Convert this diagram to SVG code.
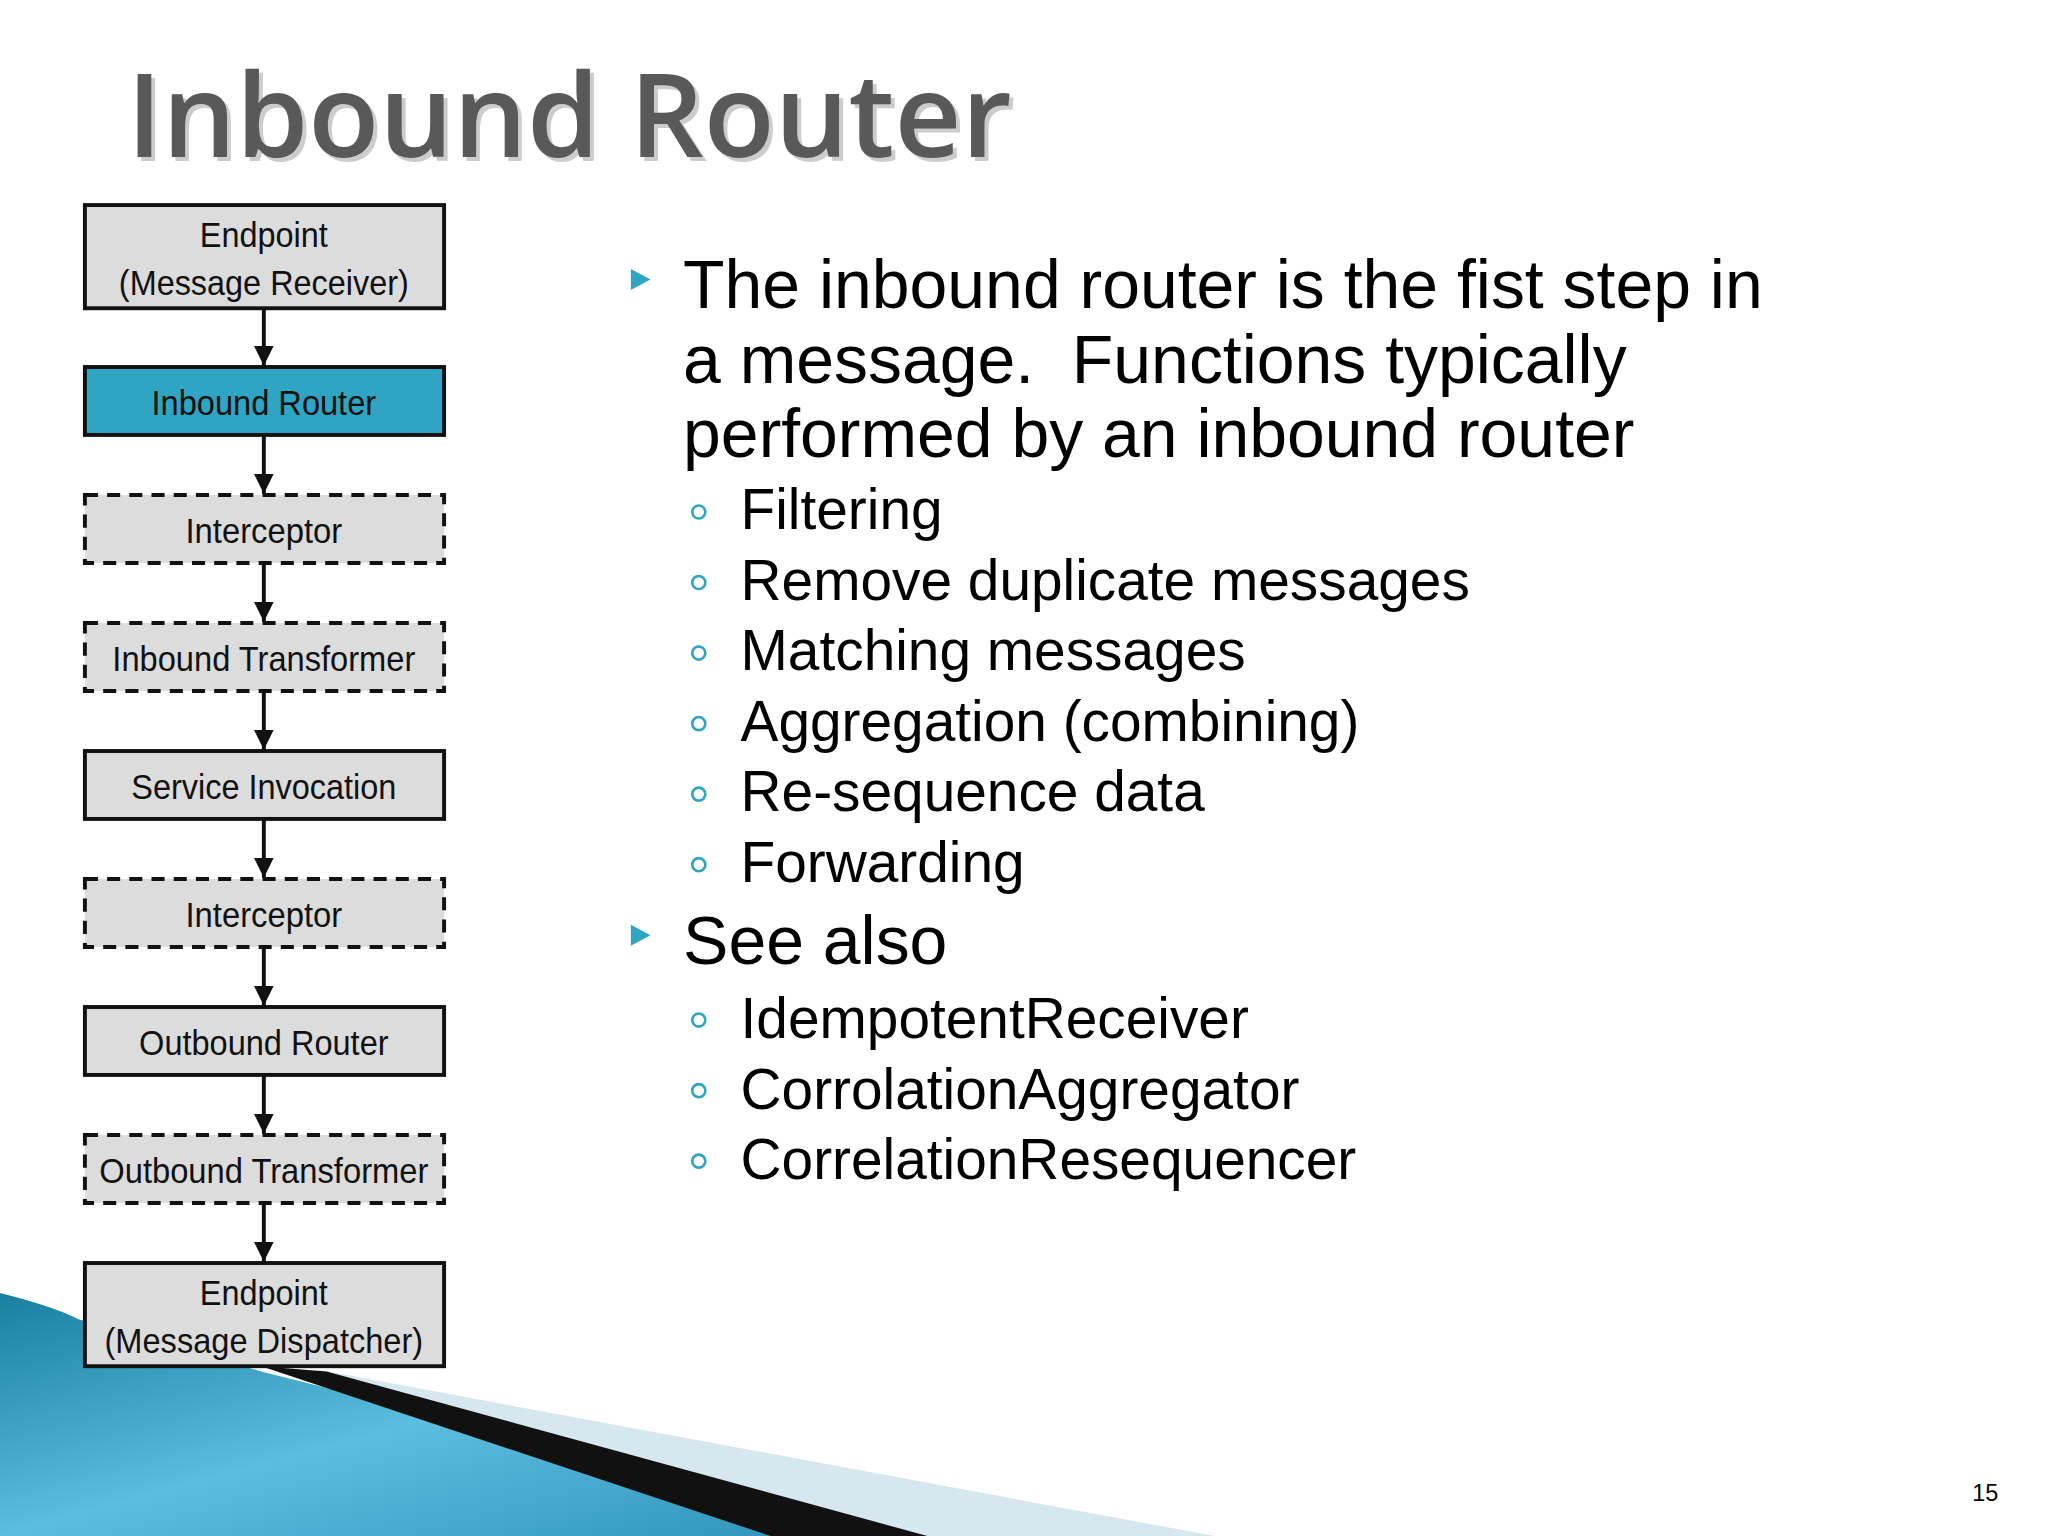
<svg xmlns="http://www.w3.org/2000/svg" width="2048" height="1536" viewBox="0 0 2048 1536">
<defs>
<style>
.b{fill:#dcdcdc;stroke:#111;stroke-width:3}
.d{stroke-dasharray:10 7}
.t{font-family:"Liberation Sans",Arial,sans-serif;font-size:27px;fill:#111;text-anchor:middle}
.m{font-family:"Liberation Sans",Arial,sans-serif;fill:#000}
.c{fill:none;stroke:#2fa4c3;stroke-width:2}
.tri{fill:#2fa4c3}
</style>
<marker id="ar" viewBox="0 0 10 10" refX="10" refY="5" markerWidth="5" markerHeight="5" orient="auto"><path d="M0,0L10,5L0,10z" fill="#111"/></marker>
<linearGradient id="g" x1="0" y1="0" x2="1" y2="1"><stop offset="0" stop-color="#1a7fa0"/><stop offset="0.5" stop-color="#5bbde0"/><stop offset="1" stop-color="#2b8fb5"/></linearGradient>
</defs>
<rect width="2048" height="1536" fill="#fff"/>
<g transform="scale(1.30612)">
<path d="M240,1048 L930,1176 L560,1176 Z" fill="#d6e7ef"/>
<path d="M0,990 Q40,1000 60,1010 L200,1050 L700,1176 L0,1176 Z" fill="url(#g)"/>
<path d="M200,1046 L250,1050 L710,1176 L590,1176 Z" fill="#111"/>
<text x="97" y="120" font-family="Open Sans,sans-serif" font-size="89" font-weight="600" fill="#ccc" transform="translate(3,3)">Inbound Router</text>
<text x="97" y="120" font-family="Open Sans,sans-serif" font-size="89" font-weight="600" fill="#595959">Inbound Router</text>
<g id="connectors" stroke="#111" stroke-width="3" marker-end="url(#ar)">
<line x1="202" y1="236" x2="202" y2="280"/>
<line x1="202" y1="333" x2="202" y2="378"/>
<line x1="202" y1="431" x2="202" y2="476"/>
<line x1="202" y1="529" x2="202" y2="574"/>
<line x1="202" y1="627" x2="202" y2="672"/>
<line x1="202" y1="725" x2="202" y2="770"/>
<line x1="202" y1="823" x2="202" y2="868"/>
<line x1="202" y1="921" x2="202" y2="966"/>
</g>
<g id="n1"><rect class="b" x="65" y="157" width="275" height="79"/><text class="t" x="202" y="189" textLength="98" lengthAdjust="spacingAndGlyphs">Endpoint</text><text class="t" x="202" y="226" textLength="222" lengthAdjust="spacingAndGlyphs">(Message Receiver)</text></g>
<g id="n2"><rect class="b" x="65" y="281" width="275" height="52" style="fill:#2fa4c3"/><text class="t" x="202" y="318" textLength="172" lengthAdjust="spacingAndGlyphs">Inbound Router</text></g>
<g id="n3"><rect class="b d" x="65" y="379" width="275" height="52"/><text class="t" x="202" y="416" textLength="120" lengthAdjust="spacingAndGlyphs">Interceptor</text></g>
<g id="n4"><rect class="b d" x="65" y="477" width="275" height="52"/><text class="t" x="202" y="514" textLength="232" lengthAdjust="spacingAndGlyphs">Inbound Transformer</text></g>
<g id="n5"><rect class="b" x="65" y="575" width="275" height="52"/><text class="t" x="202" y="612" textLength="203" lengthAdjust="spacingAndGlyphs">Service Invocation</text></g>
<g id="n6"><rect class="b d" x="65" y="673" width="275" height="52"/><text class="t" x="202" y="710" textLength="120" lengthAdjust="spacingAndGlyphs">Interceptor</text></g>
<g id="n7"><rect class="b" x="65" y="771" width="275" height="52"/><text class="t" x="202" y="808" textLength="191" lengthAdjust="spacingAndGlyphs">Outbound Router</text></g>
<g id="n8"><rect class="b d" x="65" y="869" width="275" height="52"/><text class="t" x="202" y="906" textLength="252" lengthAdjust="spacingAndGlyphs">Outbound Transformer</text></g>
<g id="n9"><rect class="b" x="65" y="967" width="275" height="79"/><text class="t" x="202" y="999" textLength="98" lengthAdjust="spacingAndGlyphs">Endpoint</text><text class="t" x="202" y="1036" textLength="244" lengthAdjust="spacingAndGlyphs">(Message Dispatcher)</text></g>
<path class="tri" d="M483,206 L498,214 L483,222 Z"/>
<text class="m" font-size="52" x="523" y="236">The inbound router is the fist step in</text>
<text class="m" font-size="52" x="523" y="293" xml:space="preserve">a message.  Functions typically</text>
<text class="m" font-size="52" x="523" y="350">performed by an inbound router</text>
<g font-size="43.5">
<circle class="c" cx="535" cy="392" r="5"/><text class="m" x="567" y="405">Filtering</text>
<circle class="c" cx="535" cy="446" r="5"/><text class="m" x="567" y="459">Remove duplicate messages</text>
<circle class="c" cx="535" cy="500" r="5"/><text class="m" x="567" y="513">Matching messages</text>
<circle class="c" cx="535" cy="554" r="5"/><text class="m" x="567" y="567">Aggregation (combining)</text>
<circle class="c" cx="535" cy="608" r="5"/><text class="m" x="567" y="621">Re-sequence data</text>
<circle class="c" cx="535" cy="662" r="5"/><text class="m" x="567" y="675">Forwarding</text>
</g>
<path class="tri" d="M483,708 L498,716 L483,724 Z"/>
<text class="m" font-size="52" x="523" y="738">See also</text>
<g font-size="43.5">
<circle class="c" cx="535" cy="781" r="5"/><text class="m" x="567" y="795">IdempotentReceiver</text>
<circle class="c" cx="535" cy="835" r="5"/><text class="m" x="567" y="849">CorrolationAggregator</text>
<circle class="c" cx="535" cy="889" r="5"/><text class="m" x="567" y="903">CorrelationResequencer</text>
</g>
<text class="m" font-size="18" x="1510" y="1149" fill="#333">15</text>
</g>
</svg>
